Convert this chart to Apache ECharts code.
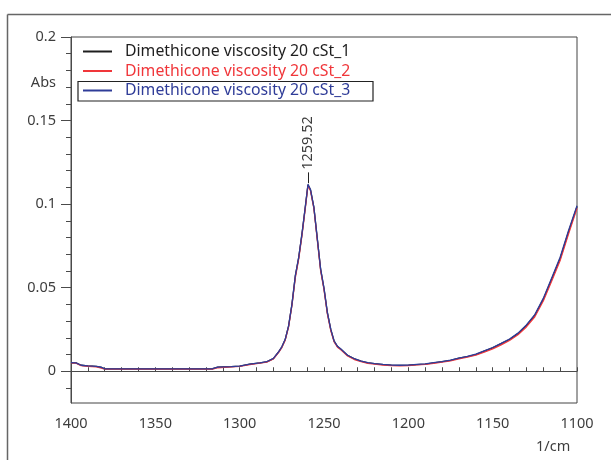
<!DOCTYPE html>
<html>
<head>
<meta charset="utf-8">
<script src="https://cdn.jsdelivr.net/npm/echarts@6/dist/echarts.min.js"></script>
<style>
  html, body { margin: 0; padding: 0; background: #fff; }
  #main { width: 611px; height: 460px; }
</style>
</head>
<body>
<div id="main"></div>
<script>
// wavenumber (1/cm) and absorbance
var wavenumbers = [1400, 1397, 1394, 1390, 1385, 1382, 1380, 1370, 1360, 1350, 1340, 1330, 1320, 1316, 1313,
  1305, 1300, 1294, 1288, 1284, 1280, 1277, 1275, 1273, 1271, 1269, 1267, 1265, 1263, 1261, 1259.5,
  1258, 1256, 1254, 1252, 1250, 1248, 1246, 1244, 1242, 1240, 1236, 1232, 1228, 1224, 1220, 1215,
  1210, 1205, 1200, 1195, 1190, 1185, 1180, 1175, 1170, 1165, 1160, 1155, 1150, 1145, 1140, 1135,
  1130, 1125, 1120, 1115, 1110, 1105, 1100];

var abs1 = [0.0050, 0.0050, 0.0036, 0.0032, 0.0029, 0.0023, 0.0014, 0.0014, 0.0014, 0.0014, 0.0014, 0.0014, 0.0014, 0.0015, 0.0025,
  0.0028, 0.0031, 0.0042, 0.0050, 0.0056, 0.0076, 0.0114, 0.0145, 0.0190, 0.0270, 0.0400, 0.0570, 0.0680, 0.0825, 0.0990, 0.1116,
  0.1085, 0.0980, 0.0795, 0.0610, 0.0495, 0.0350, 0.0250, 0.0180, 0.0148, 0.0132, 0.0095, 0.0074, 0.0060, 0.0050, 0.0045, 0.0040,
  0.0036, 0.0035, 0.0036, 0.0040, 0.0043, 0.0050, 0.0057, 0.0065, 0.0078, 0.0088, 0.0100, 0.0120, 0.0140, 0.0165, 0.0190, 0.0225,
  0.0273, 0.0335, 0.0430, 0.0552, 0.0675, 0.0835, 0.0985];

var abs2 = [0.0050, 0.0049, 0.0034, 0.0030, 0.0026, 0.0019, 0.0013, 0.0013, 0.0013, 0.0013, 0.0013, 0.0013, 0.0013, 0.0013, 0.0021,
  0.0026, 0.0029, 0.0040, 0.0049, 0.0055, 0.0074, 0.0112, 0.0142, 0.0186, 0.0265, 0.0395, 0.0560, 0.0672, 0.0818, 0.0982, 0.1112,
  0.1080, 0.0975, 0.0788, 0.0602, 0.0488, 0.0343, 0.0244, 0.0176, 0.0144, 0.0128, 0.0091, 0.0070, 0.0057, 0.0047, 0.0042, 0.0037,
  0.0034, 0.0033, 0.0034, 0.0038, 0.0041, 0.0047, 0.0054, 0.0062, 0.0074, 0.0084, 0.0096, 0.0114, 0.0134, 0.0158, 0.0184, 0.0218,
  0.0265, 0.0326, 0.0420, 0.0540, 0.0662, 0.0822, 0.0975];

var abs3 = [0.0051, 0.0050, 0.0036, 0.0032, 0.0029, 0.0024, 0.0014, 0.0014, 0.0014, 0.0014, 0.0014, 0.0014, 0.0014, 0.0015, 0.0025,
  0.0028, 0.0031, 0.0042, 0.0050, 0.0057, 0.0077, 0.0115, 0.0146, 0.0191, 0.0272, 0.0402, 0.0572, 0.0682, 0.0828, 0.0992, 0.1118,
  0.1087, 0.0982, 0.0797, 0.0612, 0.0497, 0.0352, 0.0252, 0.0181, 0.0149, 0.0133, 0.0096, 0.0075, 0.0061, 0.0051, 0.0046, 0.0041,
  0.0037, 0.0036, 0.0037, 0.0041, 0.0044, 0.0051, 0.0058, 0.0066, 0.0079, 0.0089, 0.0102, 0.0122, 0.0142, 0.0167, 0.0193, 0.0228,
  0.0277, 0.0339, 0.0436, 0.0558, 0.0682, 0.0842, 0.0990];

var seriesNames = ['Dimethicone viscosity 20 cSt_1', 'Dimethicone viscosity 20 cSt_2', 'Dimethicone viscosity 20 cSt_3'];
var yMajorTicks = [0, 0.05, 0.1, 0.15, 0.2];
var yMinorTicks = [-0.01, 0.01, 0.02, 0.03, 0.04, 0.06, 0.07, 0.08, 0.09, 0.11, 0.12, 0.13, 0.14, 0.16, 0.17, 0.18, 0.19];
var peakWavenumber = 1259.52;

function pairs(vals) {
  return wavenumbers.map(function (w, i) { return [w, vals[i]]; });
}

var font = 'Noto Sans';
var textGrey = '#3d3d3d';
var axisGrey = '#4a4a4a';
var colors = ['#1e1e1e', '#f0363a', '#2f3c98'];

var yBase = {
  type: 'value',
  min: -0.019,
  max: 0.2,
  position: 'left',
  splitLine: { show: false }
};

var option = {
  animation: false,
  backgroundColor: '#fff',
  grid: { left: 71, right: 34, top: 37, bottom: 57, show: true, borderColor: '#444', borderWidth: 1 },
  legend: {
    orient: 'vertical',
    left: 83,
    top: 43.5,
    padding: 0,
    itemWidth: 29,
    itemHeight: 2,
    itemGap: 3.5,
    icon: 'rect',
    selectedMode: false,
    data: seriesNames.map(function (n, i) {
      return { name: n, textStyle: { color: colors[i] } };
    }),
    textStyle: { fontFamily: font, fontSize: 15.8, lineHeight: 16, padding: [0, 0, 0, 8] }
  },
  xAxis: {
    type: 'value',
    inverse: true,
    min: 1100,
    max: 1400,
    interval: 50,
    axisLine: { lineStyle: { color: axisGrey, width: 1 } },
    axisTick: { inside: true, length: 4, lineStyle: { color: axisGrey } },
    minorTick: { show: true, splitNumber: 5, length: 4, lineStyle: { color: axisGrey } },
    axisLabel: {
      margin: 13, color: textGrey, fontFamily: font, fontSize: 14.5,
      formatter: function (v) { return String(v); }
    },
    splitLine: { show: false }
  },
  yAxis: [
    Object.assign({}, yBase, {
      axisLine: { show: true, lineStyle: { color: axisGrey, width: 1 } },
      axisTick: { show: true, length: 10, customValues: yMajorTicks, lineStyle: { color: axisGrey } },
      axisLabel: {
        margin: 15, color: textGrey, fontFamily: font, fontSize: 14.5,
        customValues: yMajorTicks,
        formatter: function (v) { return String(v); }
      }
    }),
    Object.assign({}, yBase, {
      axisLine: { show: false },
      axisTick: { show: true, length: 5, customValues: yMinorTicks, lineStyle: { color: axisGrey } },
      axisLabel: { show: false }
    })
  ],
  graphic: [
    { type: 'line', shape: { x1: 7.5, y1: 14.5, x2: 611, y2: 14.5 }, style: { stroke: '#666', lineWidth: 1.5 } },
    { type: 'line', shape: { x1: 7.5, y1: 14.5, x2: 7.5, y2: 460 }, style: { stroke: '#666', lineWidth: 1.5 } },
    { type: 'rect', shape: { x: 78, y: 81.5, width: 295, height: 19.5 }, style: { fill: 'none', stroke: '#222', lineWidth: 1.2 } },
    { type: 'text', right: 555, top: 75, style: { text: 'Abs', fill: textGrey, font: '14.5px "Noto Sans"', textAlign: 'right' } },
    { type: 'text', left: 536, top: 439, style: { text: '1/cm', fill: textGrey, font: '14.5px "Noto Sans"' } }
  ],
  series: [
    {
      name: seriesNames[0], type: 'line', data: pairs(abs1), showSymbol: false, symbol: 'none',
      color: colors[0], lineStyle: { width: 1.3 },
      markLine: {
        silent: true, symbol: 'none', label: { show: false },
        lineStyle: { color: '#222', width: 1, type: 'solid' },
        data: [[{ coord: [peakWavenumber, 0.1125] }, { coord: [peakWavenumber, 0.119] }]]
      },
      markPoint: {
        silent: true, symbol: 'circle', symbolSize: 0,
        data: [{ coord: [peakWavenumber, 0.1205], value: peakWavenumber }],
        label: {
          show: true, position: 'inside', rotate: 90, align: 'left', verticalAlign: 'middle',
          formatter: String(peakWavenumber), color: textGrey, fontFamily: font, fontSize: 14.5
        }
      }
    },
    {
      name: seriesNames[1], type: 'line', data: pairs(abs2), showSymbol: false, symbol: 'none',
      color: colors[1], lineStyle: { width: 1.3 }
    },
    {
      name: seriesNames[2], type: 'line', data: pairs(abs3), showSymbol: false, symbol: 'none',
      color: colors[2], lineStyle: { width: 1.3 }
    }
  ]
};

var myChart = echarts.init(document.getElementById('main'));
myChart.setOption(option);
</script>
</body>
</html>
